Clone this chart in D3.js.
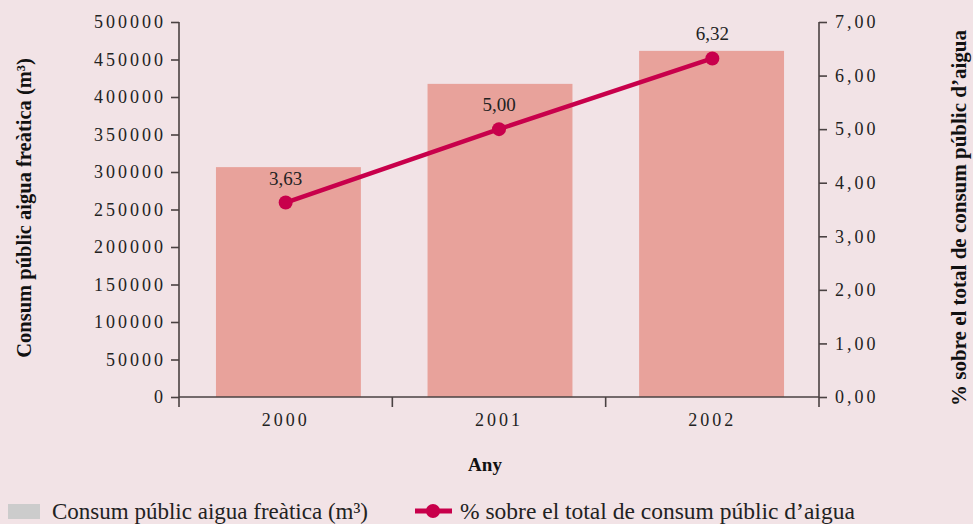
<!DOCTYPE html>
<html>
<head>
<meta charset="utf-8">
<script src="https://cdn.jsdelivr.net/npm/d3@7"></script>
<style>
  body { margin: 0; background: #f2e3e6; }
  svg { display: block; font-family: "Liberation Serif", "DejaVu Serif", serif; }
  .axis path, .axis line { stroke: #4a4242; stroke-width: 1.6; }
  .axis text { font-family: "Liberation Serif", serif; font-size: 18px; fill: #222; letter-spacing: 3px; }
  .title { font-weight: bold; font-size: 21px; fill: #111; }
</style>
</head>
<body>
<div id="chart"></div>
<script>
// data
const years = ['2000', '2001', '2002'];
const consum = [306500, 417500, 461500];
const percent = [3.63, 5.00, 6.32];
const leftTicks = [0, 50000, 100000, 150000, 200000, 250000, 300000, 350000, 400000, 450000, 500000];
const rightTicks = [0, 1, 2, 3, 4, 5, 6, 7];

const width = 973, height = 524;
const margin = { top: 22, right: 154, bottom: 127, left: 179 };
const innerW = width - margin.left - margin.right;
const innerH = height - margin.top - margin.bottom;

const comma = d3.formatLocale({ decimal: ',', thousands: '.', grouping: [3], currency: ['', ''] });
const fmt2 = comma.format('.2f');

const svg = d3.select('#chart').append('svg')
  .attr('width', width)
  .attr('height', height);

svg.append('rect').attr('width', width).attr('height', height).attr('fill', '#f2e3e6');

const plot = svg.append('g')
  .attr('transform', `translate(${margin.left},${margin.top})`);

const x = d3.scaleBand().domain(years).range([0, innerW]).paddingInner(0.315).paddingOuter(0.17);
const xTicks = d3.scaleBand().domain(years).range([0, innerW]);
const yL = d3.scaleLinear().domain([0, 500000]).range([innerH, 0]);
const yR = d3.scaleLinear().domain([0, 7]).range([innerH, 0]);

// bars
plot.selectAll('.bar')
  .data(years)
  .enter().append('rect')
    .attr('class', 'bar')
    .attr('x', d => x(d) + 1)
    .attr('width', x.bandwidth())
    .attr('y', (d, i) => yL(consum[i]))
    .attr('height', (d, i) => innerH - yL(consum[i]))
    .attr('fill', '#e8a29b');

// axes
const leftAxis = plot.append('g')
  .attr('class', 'axis')
  .call(d3.axisLeft(yL).tickValues(leftTicks).tickSize(8).tickPadding(5).tickFormat(d3.format('d')));
leftAxis.select('.domain').attr('d', `M0,0V${innerH + 10}`);

const rightAxis = plot.append('g')
  .attr('class', 'axis')
  .attr('transform', `translate(${innerW},0)`)
  .call(d3.axisRight(yR).tickValues(rightTicks).tickSize(8).tickPadding(8).tickFormat(fmt2));
rightAxis.select('.domain').attr('d', `M0,0V${innerH + 10}`);

const bottomAxis = plot.append('g')
  .attr('class', 'axis')
  .attr('transform', `translate(0,${innerH})`)
  .call(d3.axisBottom(xTicks).tickSize(0).tickPadding(16));
bottomAxis.select('.domain').attr('d', `M0,0H${innerW}`);
// tick marks sit on the band edges
bottomAxis.selectAll('.edge')
  .data([xTicks('2001'), xTicks('2002')])
  .enter().append('line')
    .attr('class', 'edge')
    .attr('x1', d => d).attr('x2', d => d)
    .attr('y1', 0).attr('y2', 10);

// line + points
const cx = (d, i) => xTicks(years[i]) + xTicks.bandwidth() / 2;
const line = d3.line()
  .x((d, i) => cx(d, i))
  .y(d => yR(d));

plot.append('path')
  .datum(percent)
  .attr('d', line)
  .attr('fill', 'none')
  .attr('stroke', '#c8004b')
  .attr('stroke-width', 4.5);

plot.selectAll('.dot')
  .data(percent)
  .enter().append('circle')
    .attr('cx', cx)
    .attr('cy', d => yR(d))
    .attr('r', 7)
    .attr('fill', '#c8004b');

plot.selectAll('.val')
  .data(percent)
  .enter().append('text')
    .attr('x', cx)
    .attr('y', d => yR(d) - 18)
    .attr('text-anchor', 'middle')
    .style('font-size', '19px')
    .style('fill', '#222')
    .text(d => fmt2(d));

// axis titles
svg.append('text')
  .attr('class', 'title')
  .style('font-size', '20.5px')
  .attr('transform', `translate(31,208) rotate(-90)`)
  .attr('text-anchor', 'middle')
  .text('Consum públic aigua freàtica (m³)');

svg.append('text')
  .attr('class', 'title')
  .attr('transform', `translate(966,218) rotate(-90)`)
  .attr('text-anchor', 'middle')
  .text('% sobre el total de consum públic d’aigua');

svg.append('text')
  .attr('class', 'title')
  .style('font-size', '19px')
  .attr('x', margin.left + innerW / 2 - 14)
  .attr('y', 471)
  .attr('text-anchor', 'middle')
  .text('Any');

// legend
const legend = svg.append('g').attr('transform', 'translate(0,511)');
legend.append('rect').attr('x', 8).attr('y', -7).attr('width', 32).attr('height', 15).attr('fill', '#cccccc');
legend.append('text').attr('x', 52).attr('y', 8).style('font-size', '23px').style('fill', '#222')
  .text('Consum públic aigua freàtica (m³)');
legend.append('line').attr('x1', 415).attr('x2', 452).attr('y1', 0).attr('y2', 0)
  .attr('stroke', '#c8004b').attr('stroke-width', 5);
legend.append('circle').attr('cx', 433).attr('cy', 0).attr('r', 7).attr('fill', '#c8004b');
legend.append('text').attr('x', 460).attr('y', 8).style('font-size', '23.5px').style('fill', '#222')
  .text('% sobre el total de consum públic d’aigua');
</script>
</body>
</html>
